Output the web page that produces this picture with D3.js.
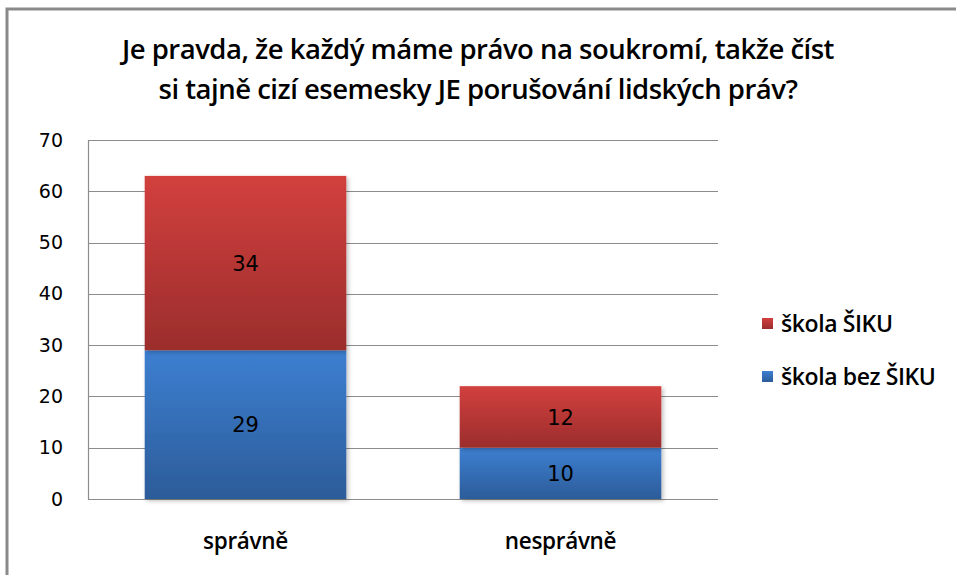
<!DOCTYPE html>
<html>
<head>
<meta charset="utf-8">
<script src="https://cdn.jsdelivr.net/npm/d3@7"></script>
<style>
  body { margin: 0; background: #fff; }
  svg { display: block; }
</style>
</head>
<body>
<script>
// data
const categories = ['správně', 'nesprávně'];
const seriesNames = ['škola bez ŠIKU', 'škola ŠIKU'];
const bezSiku = [29, 10];
const siku = [34, 12];
const yTicks = [0, 10, 20, 30, 40, 50, 60, 70];
const titleLines = [
  'Je pravda, že každý máme právo na soukromí, takže číst',
  'si tajně cizí esemesky JE porušování lidských práv?'
];

const width = 956;
const height = 575;
const margin = { top: 140, right: 238, bottom: 76, left: 88 };

const svg = d3.select('body')
  .append('svg')
  .attr('width', width)
  .attr('height', height);

const defs = svg.append('defs');

// gradients for the bars
function addGradient(id, top, bottom) {
  const g = defs.append('linearGradient')
    .attr('id', id)
    .attr('x1', 0).attr('y1', 0)
    .attr('x2', 0).attr('y2', 1);
  g.append('stop').attr('offset', '0%').attr('stop-color', top);
  g.append('stop').attr('offset', '100%').attr('stop-color', bottom);
}
addGradient('gradRed', '#d2403e', '#9b2d2c');
addGradient('gradBlue', '#3d7fd1', '#2c5c99');

const shadow = defs.append('filter').attr('id', 'shadow')
  .attr('x', '-10%').attr('y', '-10%').attr('width', '130%').attr('height', '130%');
shadow.append('feDropShadow')
  .attr('dx', 2).attr('dy', 2).attr('stdDeviation', 2)
  .attr('flood-color', '#000').attr('flood-opacity', 0.25);

// outer frame (only top and left show)
svg.append('path')
  .attr('d', `M7,${height} V9 H${width}`)
  .attr('fill', 'none')
  .attr('stroke', '#8a8a8a')
  .attr('stroke-width', 3);

// title
svg.append('g')
  .selectAll('text')
  .data(titleLines)
  .join('text')
  .attr('x', 478)
  .attr('y', (d, i) => 59 + i * 40)
  .attr('text-anchor', 'middle')
  .attr('font-family', 'Open Sans, sans-serif')
  .attr('font-weight', 600)
  .attr('font-size', 27.5)
  .attr('letter-spacing', -0.5)
  .attr('fill', '#000')
  .text(d => d);

const x = d3.scaleBand()
  .domain(categories)
  .range([margin.left, width - margin.right])
  .paddingInner(0.36)
  .paddingOuter(0.18);

const y = d3.scaleLinear()
  .domain([0, 70])
  .range([height - margin.bottom, margin.top]);

// gridlines
svg.append('g')
  .attr('stroke', '#8c8c8c')
  .attr('stroke-width', 1.2)
  .selectAll('line')
  .data(yTicks)
  .join('line')
  .attr('x1', margin.left)
  .attr('x2', width - margin.right)
  .attr('y1', d => Math.round(y(d)) + 0.5)
  .attr('y2', d => Math.round(y(d)) + 0.5);

// y axis
const yAxis = svg.append('g')
  .attr('transform', `translate(${margin.left},0)`)
  .call(d3.axisLeft(y).tickValues(yTicks).tickSize(0).tickPadding(25));
yAxis.select('.domain').attr('stroke', '#8c8c8c').attr('stroke-width', 1.2);
yAxis.selectAll('text')
  .attr('font-family', 'DejaVu Sans, sans-serif')
  .attr('font-size', 19)
  .attr('fill', '#000');

// stacked bars
const rows = categories.map((c, i) => ({ cat: c, bez: bezSiku[i], siku: siku[i] }));
const stack = d3.stack().keys(['bez', 'siku'])(rows);
const fills = ['url(#gradBlue)', 'url(#gradRed)'];

const layers = svg.append('g')
  .selectAll('g')
  .data(stack)
  .join('g')
  .attr('fill', (d, i) => fills[i]);

layers.selectAll('rect')
  .data(d => d)
  .join('rect')
  .attr('x', d => x(d.data.cat))
  .attr('width', x.bandwidth())
  .attr('y', d => y(d[1]))
  .attr('height', d => y(d[0]) - y(d[1]))
  .attr('filter', 'url(#shadow)');

// value labels
layers.selectAll('text')
  .data(d => d)
  .join('text')
  .attr('x', d => x(d.data.cat) + x.bandwidth() / 2)
  .attr('y', d => (y(d[0]) + y(d[1])) / 2)
  .attr('dy', '0.36em')
  .attr('text-anchor', 'middle')
  .attr('font-family', 'DejaVu Sans, sans-serif')
  .attr('font-size', 21)
  .attr('fill', '#000')
  .text(d => d[1] - d[0]);

// x axis labels
svg.append('g')
  .selectAll('text')
  .data(categories)
  .join('text')
  .attr('x', d => x(d) + x.bandwidth() / 2)
  .attr('y', 549)
  .attr('text-anchor', 'middle')
  .attr('font-family', 'Open Sans, sans-serif')
  .attr('font-weight', 600)
  .attr('font-size', 22.5)
  .attr('letter-spacing', -0.3)
  .attr('fill', '#000')
  .text(d => d);

// legend, red series first
const legendItems = [
  { name: seriesNames[1], fill: 'url(#gradRed)' },
  { name: seriesNames[0], fill: 'url(#gradBlue)' }
];
const legend = svg.append('g')
  .selectAll('g')
  .data(legendItems)
  .join('g')
  .attr('transform', (d, i) => `translate(762,${318 + i * 53})`);
legend.append('rect')
  .attr('width', 11).attr('height', 11)
  .attr('fill', d => d.fill);
legend.append('text')
  .attr('x', 19)
  .attr('y', 6)
  .attr('dy', '0.35em')
  .attr('font-family', 'Open Sans, sans-serif')
  .attr('font-weight', 600)
  .attr('font-size', 23)
  .attr('letter-spacing', -0.4)
  .attr('fill', '#000')
  .text(d => d.name);
</script>
</body>
</html>
